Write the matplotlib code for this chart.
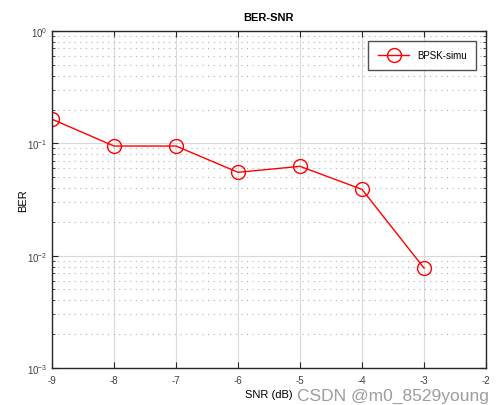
import numpy as np
import matplotlib
matplotlib.use('Agg')
import matplotlib.pyplot as plt
from matplotlib.ticker import LogLocator, NullFormatter

snr = [-9, -8, -7, -6, -5, -4, -3]
ber = [0.164, 0.0946, 0.0946, 0.0552, 0.0624, 0.0389, 0.00776]
xticks = [-9, -8, -7, -6, -5, -4, -3, -2]

plt.rcParams['font.family'] = ['Liberation Sans', 'DejaVu Sans']

fig = plt.figure(figsize=(5.01, 4.06), dpi=100)
ax = fig.add_axes([52 / 501, 1 - 369 / 406, (486 - 52) / 501, (369 - 32) / 406])

ax.semilogy(snr, ber, color='red', lw=1, marker='o', markersize=10,
            markerfacecolor='none', markeredgecolor='red', markeredgewidth=1,
            label='BPSK-simu')

ax.set_xlim(-9, -2)
ax.set_ylim(1e-3, 1)
ax.set_xticks(xticks)
ax.set_xticklabels([str(t) for t in xticks])
ax.yaxis.set_major_locator(LogLocator(base=10, numticks=10))
ax.yaxis.set_minor_locator(LogLocator(base=10, subs=np.arange(2, 10), numticks=10))
ax.yaxis.set_minor_formatter(NullFormatter())

ax.grid(True, which='major', color='#d9d9d9', lw=0.8, ls='-')
ax.grid(True, which='minor', axis='y', color='#b0b0b0', lw=0.8, ls=(0, (1, 4)))
ax.set_axisbelow(True)

ax.tick_params(which='both', direction='in', top=True, right=True, labelsize=7,
               colors='#262626', labelcolor='#404040')
ax.tick_params(which='major', length=4)
ax.tick_params(which='minor', length=2)
ax.tick_params(axis='x', pad=5)
for s in ax.spines.values():
    s.set_color('#262626')
    s.set_linewidth(1)

ax.set_title('BER-SNR', fontsize=8, fontweight='bold', pad=8)
ax.set_xlabel('SNR (dB)', fontsize=8, labelpad=3)
ax.set_ylabel('BER', fontsize=8, labelpad=-1)

leg = ax.legend(loc='upper right', fontsize=7, fancybox=False, edgecolor='#262626',
                borderaxespad=1.0, handlelength=3.2, borderpad=1.0)
leg.get_frame().set_linewidth(1)

fig.text(0.975, 0.005, 'CSDN @m0_8529young', fontsize=12.5, color='#8c8c8c', alpha=0.85,
         ha='right', va='bottom')

fig.savefig('out.png', dpi=100)
